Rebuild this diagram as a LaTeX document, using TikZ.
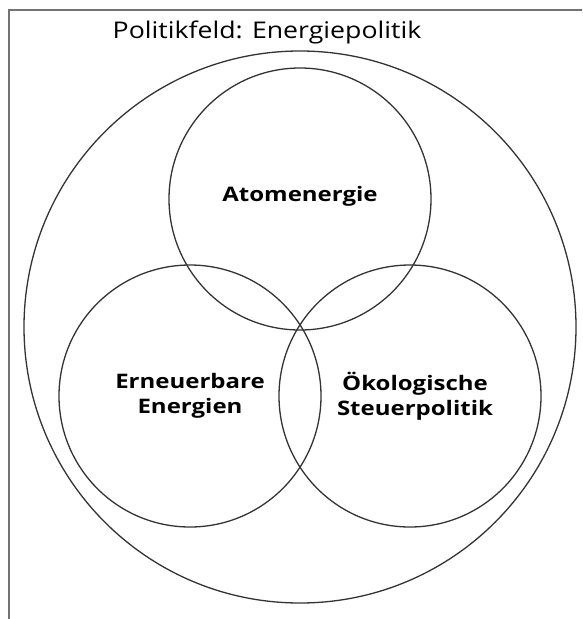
\documentclass[tikz,border=0pt]{standalone}
\usepackage{fontspec}
\setmainfont{Open Sans}
\newfontfamily\titlefont[FakeStretch=1.16]{Open Sans}
\newfontfamily\labfont[FakeStretch=1.2]{Open Sans}
\begin{document}
\begin{tikzpicture}[x=1pt,y=-1pt,
  ring/.style={draw=black!80, line width=1.3pt},
  lab/.style={font=\labfont\bfseries\fontsize{20}{25}\selectfont, align=center, text=black}]
\useasboundingbox (0,0) rectangle (582,619);
\begin{scope}
\clip (0,0) rectangle (582,619);
\draw[black!55, line width=2pt] (9,9.5) rectangle (640,680);
\end{scope}
\node[font=\titlefont\fontsize{23}{27}\selectfont] (title) at (267,32) {Politikfeld: Energiepolitik};
\draw[ring] (300,327) circle (276);
\draw[ring] (300,199) circle (131);
\draw[ring] (190,396) circle (131);
\draw[ring] (410,396) circle (131);
\node[lab] (atom) at (300,196) {Atomenergie};
\node[lab] (ern) at (190,396) {Erneuerbare\\Energien};
\node[lab] (oeko) at (415,396) {Ökologische\\Steuerpolitik};
\end{tikzpicture}
\end{document}
